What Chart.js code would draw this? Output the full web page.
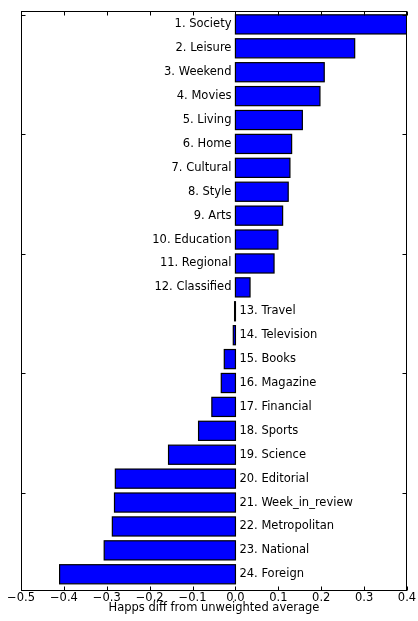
<!DOCTYPE html>
<html>
<head>
<meta charset="utf-8">
<script src="https://cdn.jsdelivr.net/npm/chart.js@4"></script>
<style>
html,body{margin:0;padding:0;background:#fff;}
#wrap{width:418px;height:621px;}
</style>
</head>
<body>
<div id="wrap"><canvas id="c" width="418" height="621"></canvas></div>
<script>
const categories = ['1. Society','2. Leisure','3. Weekend','4. Movies','5. Living','6. Home','7. Cultural','8. Style','9. Arts','10. Education','11. Regional','12. Classified','13. Travel','14. Television','15. Books','16. Magazine','17. Financial','18. Sports','19. Science','20. Editorial','21. Week_in_review','22. Metropolitan','23. National','24. Foreign'];
const values = [0.400,0.278,0.207,0.197,0.156,0.131,0.127,0.123,0.110,0.099,0.090,0.034,-0.002,-0.005,-0.026,-0.033,-0.055,-0.086,-0.156,-0.280,-0.282,-0.287,-0.306,-0.410];
const xTickValues = [-0.5,-0.4,-0.3,-0.2,-0.1,0.0,0.1,0.2,0.3,0.4];
const yTickValues = [0,5,10,15,20];
const xTitle = 'Happs diff from unweighted average';

const FONT = 'DejaVu Sans';

const framePlugin = {
  id: 'frame',
  afterDatasetsDraw(chart) {
    const ctx = chart.ctx;
    const a = chart.chartArea;
    const xs = chart.scales.x, ys = chart.scales.y;
    const meta = chart.getDatasetMeta(0);
    ctx.save();
    // bar outlines (centred on the bar edges, like the original)
    ctx.beginPath();
    ctx.rect(a.left, a.top, a.right - a.left, a.bottom - a.top);
    ctx.clip();
    ctx.strokeStyle = '#000';
    ctx.lineWidth = 1.2;
    meta.data.forEach(bar => {
      const p = bar.getProps(['x', 'y', 'base', 'height'], true);
      const x1 = Math.min(p.x, p.base), x2 = Math.max(p.x, p.base);
      ctx.strokeRect(x1, p.y - p.height / 2, x2 - x1, p.height);
    });
    ctx.restore();
    ctx.save();
    const x0 = xs.getPixelForValue(0);
    ctx.font = '11.5px "' + FONT + '"';
    ctx.fillStyle = '#000';
    ctx.textBaseline = 'middle';
    meta.data.forEach((bar, i) => {
      if (values[i] >= 0) { ctx.textAlign = 'right'; ctx.fillText(categories[i], x0 - 4, bar.y); }
      else { ctx.textAlign = 'left'; ctx.fillText(categories[i], x0 + 4, bar.y); }
    });
    ctx.strokeStyle = '#000';
    ctx.lineWidth = 1;
    const L = Math.round(a.left) + 0.5, R = Math.round(a.right) - 0.5, T = Math.round(a.top) + 0.5, B = Math.round(a.bottom) - 0.5;
    ctx.strokeRect(L, T, R - L, B - T);
    ctx.beginPath();
    xTickValues.forEach(v => {
      const px = Math.round(xs.getPixelForValue(v)) + 0.5;
      ctx.moveTo(px, B); ctx.lineTo(px, B - 4);
      ctx.moveTo(px, T); ctx.lineTo(px, T + 4);
    });
    yTickValues.forEach(v => {
      const py = Math.round(ys.getPixelForValue(v)) + 0.5;
      ctx.moveTo(L, py); ctx.lineTo(L + 4, py);
      ctx.moveTo(R, py); ctx.lineTo(R - 4, py);
    });
    ctx.stroke();
    ctx.restore();
  }
};

new Chart(document.getElementById('c'), {
  type: 'bar',
  data: {
    datasets: [{
      data: values.map((v, i) => ({ x: v, y: i + 0.4 })),
      backgroundColor: '#0000ff',
      borderWidth: 0,
      barPercentage: 0.8,
      categoryPercentage: 1.0
    }]
  },
  options: {
    indexAxis: 'y',
    responsive: false,
    animation: false,
    devicePixelRatio: 1,
    layout: { padding: { left: 21, right: 11, top: 11, bottom: 0 } },
    plugins: { legend: { display: false }, tooltip: { enabled: false } },
    scales: {
      x: {
        type: 'linear',
        min: -0.5, max: 0.4,
        offset: false,
        afterBuildTicks: (s) => { s.ticks = xTickValues.map(v => ({ value: v })); },
        afterFit: (s) => { s.height = 30; },
        grid: { display: false, drawTicks: false },
        border: { display: false },
        ticks: {
          padding: 0,
          color: '#000',
          font: { family: FONT, size: 11.5 },
          maxRotation: 0,
          callback: (v) => (v < 0 ? '\u2212' : '') + Math.abs(v).toFixed(1)
        },
        title: {
          display: true,
          text: xTitle,
          color: '#000',
          font: { family: FONT, size: 11.5 },
          padding: { top: 0, bottom: 6 }
        }
      },
      y: {
        type: 'linear',
        reverse: true,
        offset: false,
        min: -0.16, max: 24.1,
        display: false
      }
    }
  },
  plugins: [framePlugin]
});
</script>
</body>
</html>
